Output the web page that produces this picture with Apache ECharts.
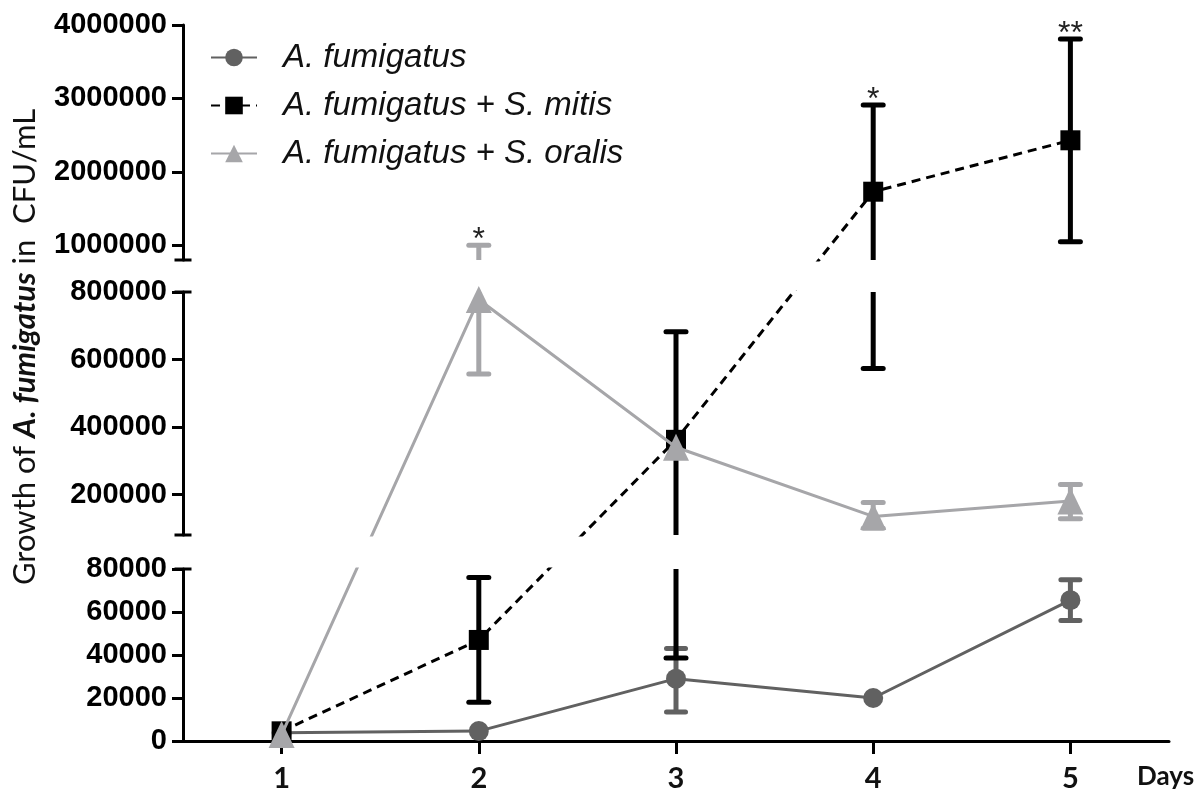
<!DOCTYPE html>
<html><head><meta charset="utf-8">
<script src="https://cdn.jsdelivr.net/npm/echarts@6/dist/echarts.min.js"></script>
<style>html,body{margin:0;padding:0;background:#fff}#c{width:1194px;height:805px}</style>
</head><body><div id="c"></div>
<script>
// ---------------- data ----------------
const days = [1, 2, 3, 4, 5];
const seriesNames = ['A. fumigatus', 'A. fumigatus + S. mitis', 'A. fumigatus + S. oralis'];

const fumigatusMean = [3800, 4600, 29000, 20000, 65500];
const fumigatusLow  = [3800, 4600, 13500, 20000, 56000];
const fumigatusHigh = [3800, 4600, 43000, 20000, 75000];

const mitisMean = [4500, 47000, 362000, 1730000, 2430000];
const mitisLow  = [4500, 18000, 38600, 573000, 1050000];
const mitisHigh = [4500, 76000, 682000, 2910000, 3810000];

const oralisMean = [3000, 778000, 340000, 135000, 181000];
const oralisLow  = [3000, 557000, 340000, 100000, 128000];
const oralisHigh = [3000, 1000000, 340000, 176000, 230000];

const mitisSig  = ['', '', '', '*', '**'];
const oralisSig = ['', '*', '', '', ''];

const yTicksBottom = [0, 20000, 40000, 60000, 80000];
const yTicksMiddle = [200000, 400000, 600000, 800000];
const yTicksTop    = [1000000, 2000000, 3000000, 4000000];
const xTicks = [1, 2, 3, 4, 5];

// ---------------- layout (broken y axis: three segments) ----------------
const LEFT = 183, RIGHT = 25;
const segs = [
  { min: 0,      max: 80000,   top: 569, height: 172, ticks: yTicksBottom, cap: ['none', 'rect'] },
  { min: 80000,  max: 800000,  top: 292, height: 243, ticks: yTicksMiddle, cap: ['rect', 'rect'] },
  { min: 800000, max: 4000000, top: 25,  height: 235, ticks: yTicksTop,    cap: ['rect', 'none'] }
];
// screen y of a value on the broken axis (straight lines between screen points, as in the original)
function screenY(v) {
  let s = segs[segs.length - 1];
  for (const g of segs) { if (v <= g.max) { s = g; break; } }
  return s.top + s.height - (v - s.min) / (s.max - s.min) * s.height;
}
// value in segment k's own scale that lands on the same screen position
function inSeg(k, v) {
  const s = segs[k];
  return s.min + (s.top + s.height - screenY(v)) / s.height * (s.max - s.min);
}

const styles = [
  { color: '#616161', symbol: 'circle', size: 20, line: { color: '#616161', width: 3, type: 'solid' }, capW: 24, z: 2 },
  { color: '#000000', symbol: 'rect', size: 20, line: { color: '#000000', width: 3, type: [9, 6] }, capW: 25, z: 3 },
  { color: '#a6a6a9', symbol: 'triangle', size: [26, 27], line: { color: '#a6a6a9', width: 3, type: 'solid' }, capW: 25, z: 4 }
];
const means = [fumigatusMean, mitisMean, oralisMean];
const lows = [fumigatusLow, mitisLow, oralisLow];
const highs = [fumigatusHigh, mitisHigh, oralisHigh];
const sigs = [null, mitisSig, oralisSig];

function errRender(color, capW) {
  return function (params, api) {
    const x = api.value(0);
    const p1 = api.coord([x, api.value(1)]);
    const p2 = api.coord([x, api.value(2)]);
    const hw = capW / 2 - 2.5;
    return {
      type: 'group', children: [
        { type: 'line', shape: { x1: p1[0], y1: p1[1], x2: p2[0], y2: p2[1] }, style: { stroke: color, lineWidth: 5 } },
        { type: 'line', shape: { x1: p1[0] - hw, y1: p1[1], x2: p1[0] + hw, y2: p1[1] }, style: { stroke: color, lineWidth: 5, lineCap: 'round' } },
        { type: 'line', shape: { x1: p2[0] - hw, y1: p2[1], x2: p2[0] + hw, y2: p2[1] }, style: { stroke: color, lineWidth: 5, lineCap: 'round' } }
      ]
    };
  };
}

const grids = [], xAxes = [], yAxes = [], series = [];
segs.forEach((s, k) => {
  grids.push({ left: LEFT, right: RIGHT, top: s.top, height: s.height });
  xAxes.push({
    gridIndex: k, type: 'value', min: 0.5, max: 5.5, show: k === 0,
    axisLine: { lineStyle: { color: '#000', width: 3 } },
    axisTick: { customValues: xTicks, length: 13, lineStyle: { color: '#000', width: 3 } },
    axisLabel: { customValues: xTicks, margin: 23, color: '#111', fontFamily: 'Lato', fontWeight: 'bold', fontSize: 29 },
    splitLine: { show: false }
  });
  yAxes.push({
    gridIndex: k, type: 'value', min: s.min, max: s.max,
    axisLine: { show: true, symbol: s.cap, symbolSize: [17, 3], lineStyle: { color: '#000', width: 3 } },
    axisTick: { customValues: s.ticks, length: 11, lineStyle: { color: '#000', width: 3 } },
    axisLabel: { customValues: s.ticks, margin: 16, color: '#000', fontFamily: 'Liberation Sans', fontWeight: 'bold', fontSize: 29,
      formatter: v => String(Math.round(v)) },
    splitLine: { show: false }
  });
  for (let j = 0; j < 3; j++) {
    const st = styles[j];
    const errData = [];
    days.forEach((d, i) => { if (lows[j][i] !== highs[j][i]) errData.push([d, inSeg(k, lows[j][i]), inSeg(k, highs[j][i])]); });
    series.push({
      type: 'custom', name: 'err-' + j + '-' + k, xAxisIndex: k, yAxisIndex: k, clip: true, z: st.z,
      renderItem: errRender(st.color, st.capW), encode: { x: 0, y: [1, 2] }, data: errData,
      silent: true, animation: false
    });
    series.push({
      type: 'line', name: seriesNames[j], xAxisIndex: k, yAxisIndex: k, clip: true, z: st.z,
      data: days.map((d, i) => [d, inSeg(k, means[j][i])]),
      symbol: st.symbol, symbolSize: st.size, showSymbol: true,
      itemStyle: { color: st.color, opacity: 1 }, lineStyle: st.line,
      silent: true, animation: false
    });
  }
});
// significance marks (drawn unclipped above the upper error cap)
const starItems = [];
for (let j = 0; j < 3; j++) {
  if (!sigs[j]) continue;
  days.forEach((d, i) => { if (sigs[j][i]) starItems.push({ x: d, y: highs[j][i], t: sigs[j][i] }); });
}
series.push({
  type: 'custom', name: 'sig', xAxisIndex: 2, yAxisIndex: 2, clip: false, z: 10, silent: true, animation: false,
  data: starItems.map(o => [o.x, inSeg(2, o.y)]),
  renderItem: function (params, api) {
    const p = api.coord([api.value(0), api.value(1)]);
    return { type: 'text', style: { text: starItems[params.dataIndex].t, x: p[0], y: p[1] - 5, align: 'center', verticalAlign: 'middle',
      fill: '#222', font: '32px "Liberation Sans"' } };
  }
});

const chart = echarts.init(document.getElementById('c'), null, { renderer: 'canvas' });
chart.setOption({
  animation: false,
  backgroundColor: '#fff',
  grid: grids, xAxis: xAxes, yAxis: yAxes, series: series,
  legend: {
    orient: 'vertical', left: 205, top: 36, itemWidth: 46, itemHeight: 22, itemGap: 15, selectedMode: false,
    data: seriesNames,
    textStyle: { fontFamily: 'Liberation Sans', fontStyle: 'italic', fontSize: 33, color: '#111', padding: [0, 0, 0, 21] }
  },
  graphic: [
    { type: 'text', x: 25, y: 347, rotation: Math.PI / 2,
      style: { text: '{a|Growth of }{b|A. fumigatus}{a| in  CFU/mL}', align: 'center', verticalAlign: 'middle',
        rich: { a: { fontFamily: 'Lato', fontSize: 31, fill: '#111' }, b: { fontFamily: 'Lato', fontSize: 31, fontWeight: 'bold', fontStyle: 'italic', fill: '#111' } } } },
    { type: 'text', x: 1137, y: 777, style: { text: 'Days', align: 'left', verticalAlign: 'middle', fontFamily: 'Lato', fontWeight: 'bold', fontSize: 26, fill: '#111' } }
  ]
});
</script></body></html>
